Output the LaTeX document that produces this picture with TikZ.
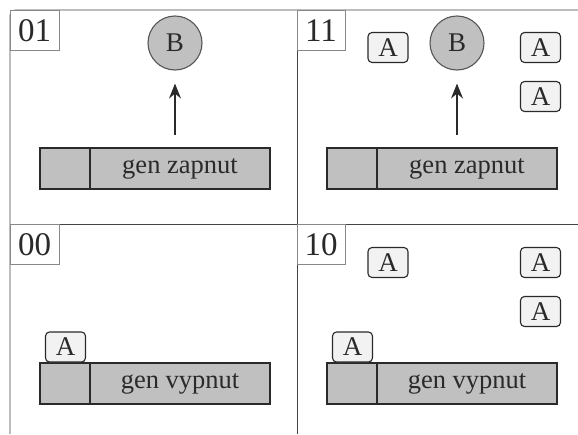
\documentclass[tikz,border=0pt]{standalone}
\usepackage{fontspec}
\setmainfont{Liberation Serif}
\usetikzlibrary{arrows.meta}
\definecolor{barfill}{HTML}{C0C0C0}
\definecolor{boxfill}{HTML}{F2F2F2}
\definecolor{ink}{HTML}{2A2A2A}
\definecolor{gridc}{HTML}{444444}
\definecolor{labc}{HTML}{888888}
\tikzset{
  gridline/.style={draw=gridc, line width=0.9pt},
  labbox/.style={draw=labc, line width=0.7pt, fill=white},
  labtext/.style={text=ink, font=\fontsize{33}{33}\selectfont, inner sep=0pt},
  cellL/.style={draw=ink, line width=1.6pt, fill=barfill, minimum width=50pt, minimum height=41pt, inner sep=0pt},
  cellR/.style={draw=ink, line width=1.6pt, fill=barfill, minimum width=180pt, minimum height=41pt, inner sep=0pt, text=ink, font=\fontsize{26.5}{26.5}\selectfont},
  abox/.style={draw=ink, line width=1.1pt, fill=boxfill, rounded corners=4pt, minimum width=40pt, minimum height=30pt, inner sep=0pt, text=ink, font=\fontsize{27}{27}\selectfont},
  bcirc/.style={circle, draw=ink!80, line width=1.1pt, fill=barfill, minimum size=54pt, inner sep=0pt, text=ink, font=\fontsize{27}{27}\selectfont},
  upar/.style={draw=ink, line width=1.1pt, -{Stealth[length=15pt,width=12pt,inset=5pt]}}
}
\begin{document}
\begin{tikzpicture}[x=1pt,y=-1pt]
\useasboundingbox (0,0) rectangle (578,434);
% grid
\draw[gridline, rounded corners=6pt] (10,434) -- (10,10) -- (578,10);
\draw[gridline] (297,10) -- (297,434);
\draw[gridline] (10,224) -- (578,224);
% label boxes
\draw[labbox] (10,10) rectangle (59,50);
\node[labtext] (l01) at (34.5,31) {01};
\draw[labbox] (297,10) rectangle (345,50);
\node[labtext] (l11) at (321,31) {11};
\draw[labbox] (10,224) rectangle (59,264);
\node[labtext] (l00) at (34.5,245) {00};
\draw[labbox] (297,224) rectangle (345,264);
\node[labtext] (l10) at (321,245) {10};
% panel 01
\node[cellL] (b01L) at (65,168.5) {};
\node[cellR] (b01R) at (180,168.5) {gen zapnut};
\node[bcirc] (c01) at (175,43) {B};
\coordinate (s01) at (175,135);
\draw[upar, shorten >=13pt] (s01) -- (c01.south);
% panel 11
\node[cellL] (b11L) at (352,168.5) {};
\node[cellR] (b11R) at (467,168.5) {gen zapnut};
\node[bcirc] (c11) at (457,43) {B};
\coordinate (s11) at (457,135);
\draw[upar, shorten >=13pt] (s11) -- (c11.south);
\node[abox] (a11a) at (388,47.5) {A};
\node[abox] (a11b) at (540.5,47.5) {A};
\node[abox] (a11c) at (540.5,96.5) {A};
% panel 00
\node[cellL] (b00L) at (65,383.5) {};
\node[cellR] (b00R) at (180,383.5) {gen vypnut};
\node[abox] (a00) at (65.5,347) {A};
% panel 10
\node[cellL] (b10L) at (352,383.5) {};
\node[cellR] (b10R) at (467,383.5) {gen vypnut};
\node[abox] (a10a) at (388,262.5) {A};
\node[abox] (a10b) at (540.5,262.5) {A};
\node[abox] (a10c) at (540.5,311.5) {A};
\node[abox] (a10d) at (352.5,347) {A};
\end{tikzpicture}
\end{document}
